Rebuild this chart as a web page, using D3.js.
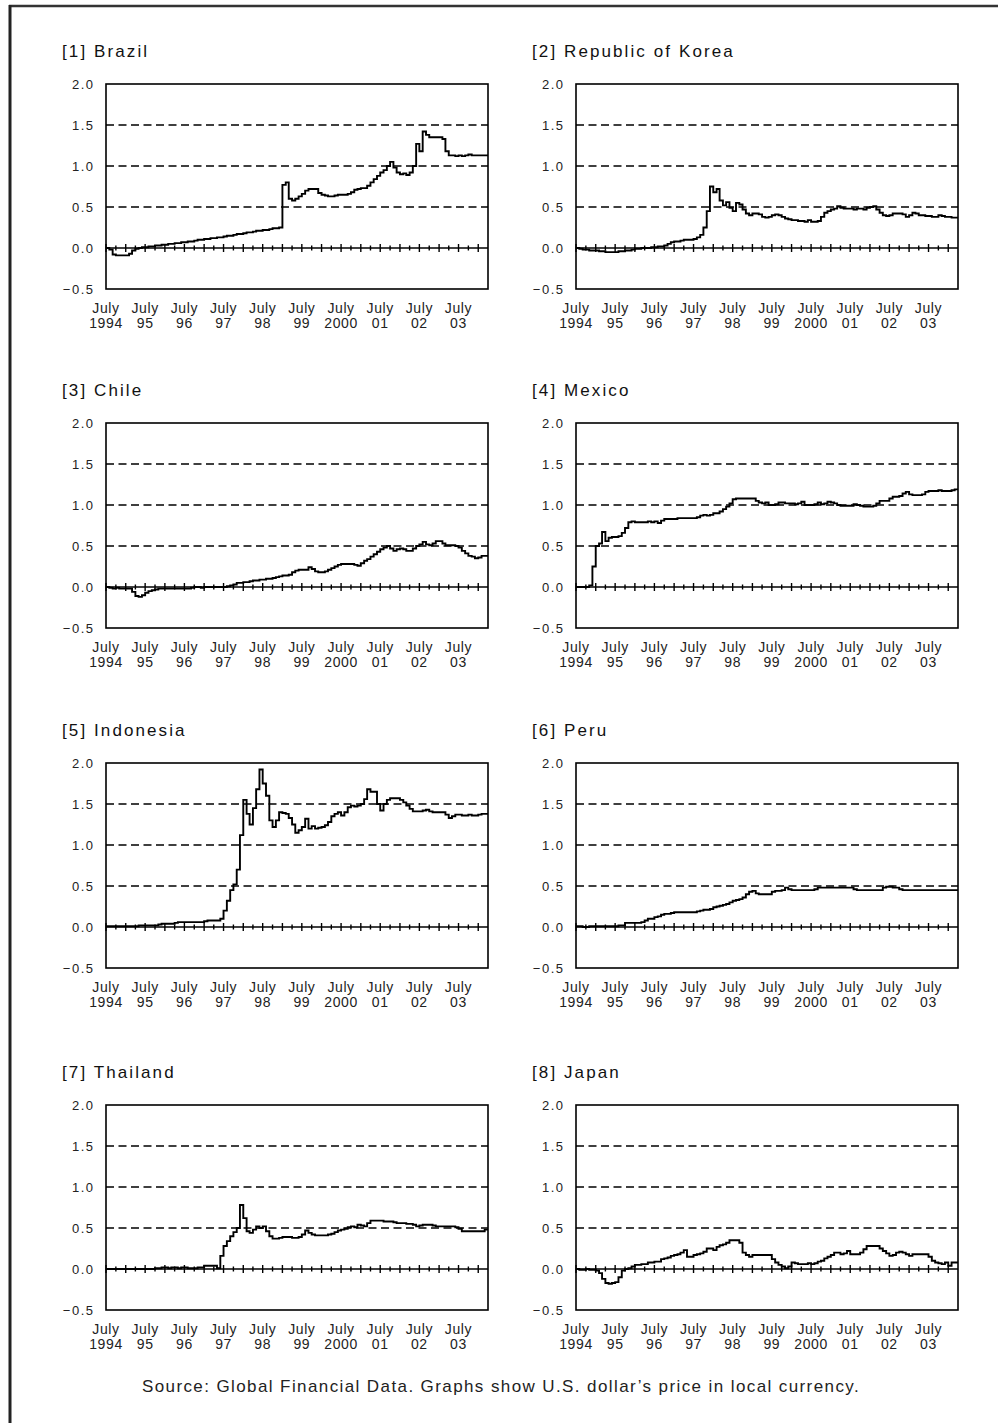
<!DOCTYPE html>
<html>
<head>
<meta charset="utf-8">
<script src="https://cdn.jsdelivr.net/npm/d3@7"></script>
<style>
  body { margin: 0; background: #fff; }
  svg { display: block; font-family: "Liberation Sans", Arial, Helvetica, sans-serif; }
</style>
</head>
<body>
<div id="chart"></div>
<script>
// monthly values, July 1994 .. March 2004 (U.S. dollar's price in local currency, log change)
var brazil = [0.0,-0.02,-0.08,-0.09,-0.09,-0.09,-0.09,-0.07,-0.03,-0.01,0.0,0.01,
  0.01,0.02,0.02,0.03,0.03,0.04,0.04,0.05,0.05,0.06,0.06,0.07,
  0.07,0.08,0.08,0.09,0.10,0.10,0.11,0.11,0.12,0.12,0.13,0.13,
  0.14,0.15,0.15,0.16,0.17,0.17,0.18,0.19,0.19,0.20,0.21,0.21,
  0.22,0.22,0.23,0.24,0.24,0.25,0.77,0.80,0.60,0.58,0.60,0.63,
  0.66,0.70,0.72,0.72,0.72,0.67,0.65,0.64,0.63,0.63,0.64,0.65,
  0.65,0.65,0.66,0.68,0.71,0.72,0.73,0.73,0.76,0.80,0.84,0.88,
  0.92,0.95,1.00,1.05,0.98,0.92,0.90,0.91,0.89,0.92,1.00,1.27,
  1.18,1.42,1.38,1.35,1.35,1.35,1.35,1.33,1.18,1.13,1.13,1.12,
  1.13,1.12,1.13,1.14,1.13,1.13,1.13,1.13,1.13];

var korea = [0.0,-0.01,-0.02,-0.02,-0.03,-0.03,-0.03,-0.04,-0.04,-0.05,-0.05,-0.05,
  -0.05,-0.04,-0.04,-0.03,-0.03,-0.02,-0.01,-0.01,0.0,0.0,0.0,0.01,
  0.01,0.02,0.02,0.03,0.05,0.07,0.08,0.08,0.09,0.10,0.10,0.10,
  0.11,0.13,0.16,0.25,0.45,0.75,0.68,0.72,0.58,0.52,0.56,0.49,
  0.45,0.55,0.53,0.47,0.42,0.40,0.42,0.42,0.41,0.38,0.37,0.38,
  0.40,0.41,0.40,0.38,0.36,0.35,0.34,0.34,0.33,0.33,0.32,0.34,
  0.32,0.32,0.33,0.38,0.43,0.45,0.47,0.48,0.51,0.49,0.48,0.48,
  0.48,0.47,0.48,0.48,0.47,0.49,0.50,0.51,0.47,0.43,0.40,0.39,
  0.40,0.42,0.42,0.42,0.41,0.38,0.40,0.43,0.42,0.40,0.40,0.39,
  0.39,0.38,0.38,0.40,0.39,0.38,0.38,0.37,0.37];

var chile = [0.0,-0.01,-0.02,-0.01,-0.02,-0.02,-0.02,-0.02,-0.06,-0.11,-0.12,-0.10,
  -0.07,-0.05,-0.04,-0.03,-0.02,-0.02,-0.02,-0.02,-0.02,-0.02,-0.02,-0.02,
  -0.02,-0.02,-0.01,0.0,0.0,-0.01,0.0,0.0,0.0,0.0,0.0,0.0,
  0.0,0.01,0.02,0.03,0.05,0.05,0.06,0.06,0.07,0.08,0.08,0.09,
  0.09,0.10,0.10,0.11,0.12,0.13,0.14,0.14,0.15,0.18,0.20,0.21,
  0.21,0.21,0.24,0.22,0.19,0.18,0.18,0.19,0.21,0.23,0.25,0.27,
  0.28,0.28,0.28,0.28,0.27,0.26,0.29,0.32,0.34,0.37,0.40,0.43,
  0.46,0.48,0.50,0.47,0.44,0.46,0.47,0.46,0.44,0.44,0.47,0.50,
  0.52,0.55,0.52,0.51,0.53,0.56,0.56,0.53,0.51,0.51,0.51,0.50,
  0.48,0.44,0.41,0.38,0.37,0.35,0.36,0.38,0.38];

var mexico = [0.0,0.0,0.0,0.0,0.02,0.25,0.50,0.53,0.67,0.56,0.60,0.61,
  0.61,0.62,0.66,0.72,0.79,0.80,0.79,0.79,0.79,0.79,0.80,0.79,
  0.80,0.78,0.81,0.83,0.83,0.83,0.83,0.84,0.84,0.84,0.84,0.84,
  0.84,0.85,0.87,0.88,0.87,0.88,0.90,0.90,0.92,0.95,0.98,1.02,
  1.07,1.08,1.08,1.08,1.08,1.08,1.08,1.05,1.03,1.02,1.03,1.00,
  1.00,1.01,1.03,1.03,1.02,1.02,1.02,1.01,1.02,1.04,1.00,1.00,
  1.00,1.01,1.03,1.01,1.02,1.04,1.03,1.02,1.00,0.99,0.99,0.99,
  0.99,1.01,1.00,0.99,0.98,0.98,0.98,0.99,1.02,1.05,1.05,1.05,
  1.08,1.10,1.10,1.11,1.14,1.16,1.13,1.12,1.12,1.12,1.13,1.16,
  1.17,1.17,1.17,1.18,1.17,1.17,1.17,1.18,1.19];

var indonesia = [0.01,0.01,0.01,0.01,0.01,0.01,0.01,0.01,0.01,0.01,0.02,0.02,
  0.02,0.02,0.02,0.02,0.03,0.04,0.04,0.04,0.04,0.05,0.06,0.06,
  0.06,0.06,0.06,0.06,0.06,0.06,0.07,0.08,0.08,0.08,0.08,0.10,
  0.20,0.32,0.45,0.52,0.70,1.12,1.55,1.38,1.25,1.45,1.68,1.92,
  1.75,1.60,1.30,1.22,1.30,1.40,1.39,1.38,1.33,1.25,1.15,1.18,
  1.22,1.32,1.20,1.23,1.20,1.21,1.22,1.24,1.28,1.35,1.38,1.40,
  1.36,1.40,1.46,1.48,1.47,1.48,1.50,1.56,1.68,1.65,1.65,1.50,
  1.42,1.50,1.55,1.57,1.57,1.57,1.55,1.52,1.48,1.44,1.41,1.41,
  1.41,1.42,1.43,1.41,1.40,1.40,1.40,1.40,1.37,1.33,1.35,1.37,
  1.37,1.36,1.36,1.37,1.36,1.36,1.37,1.38,1.38];

var peru = [0.01,0.01,0.0,0.0,0.01,0.01,0.01,0.01,0.01,0.01,0.01,0.01,
  0.01,0.02,0.02,0.05,0.05,0.05,0.05,0.05,0.06,0.08,0.10,0.10,
  0.12,0.13,0.15,0.16,0.16,0.17,0.18,0.18,0.18,0.18,0.18,0.18,
  0.18,0.19,0.20,0.21,0.21,0.22,0.24,0.25,0.26,0.27,0.28,0.30,
  0.32,0.33,0.34,0.36,0.40,0.43,0.44,0.41,0.40,0.40,0.40,0.40,
  0.43,0.44,0.44,0.45,0.48,0.46,0.45,0.45,0.45,0.45,0.45,0.45,
  0.45,0.46,0.48,0.48,0.48,0.48,0.48,0.48,0.48,0.48,0.48,0.48,
  0.48,0.46,0.45,0.45,0.45,0.45,0.45,0.45,0.45,0.45,0.48,0.49,
  0.49,0.48,0.48,0.46,0.45,0.45,0.45,0.45,0.45,0.45,0.45,0.45,
  0.45,0.45,0.45,0.45,0.45,0.45,0.45,0.45,0.45];

var thailand = [0.0,0.0,0.0,0.0,0.0,0.0,0.0,0.0,0.0,0.0,0.0,0.0,
  0.0,0.0,0.0,0.01,0.01,0.02,0.02,0.01,0.02,0.02,0.01,0.02,
  0.02,0.01,0.01,0.01,0.02,0.02,0.04,0.04,0.04,0.04,0.01,0.16,
  0.28,0.34,0.40,0.45,0.50,0.78,0.62,0.46,0.44,0.48,0.52,0.50,
  0.52,0.46,0.40,0.37,0.37,0.38,0.39,0.39,0.39,0.38,0.38,0.39,
  0.42,0.47,0.44,0.42,0.41,0.41,0.41,0.41,0.42,0.43,0.45,0.47,
  0.48,0.49,0.51,0.52,0.51,0.54,0.53,0.52,0.56,0.59,0.59,0.59,
  0.59,0.58,0.58,0.58,0.57,0.56,0.56,0.56,0.55,0.55,0.54,0.52,
  0.53,0.54,0.54,0.54,0.53,0.52,0.52,0.52,0.52,0.52,0.52,0.51,
  0.49,0.46,0.46,0.46,0.46,0.46,0.46,0.46,0.48];

var japan = [0.0,-0.01,-0.01,0.0,-0.01,-0.01,-0.02,-0.05,-0.12,-0.17,-0.18,-0.17,
  -0.16,-0.10,-0.02,0.0,0.01,0.03,0.05,0.05,0.06,0.06,0.08,0.08,
  0.09,0.09,0.12,0.13,0.14,0.16,0.17,0.18,0.20,0.23,0.15,0.15,
  0.17,0.18,0.19,0.21,0.25,0.25,0.23,0.27,0.29,0.30,0.32,0.35,
  0.35,0.35,0.32,0.20,0.17,0.15,0.17,0.17,0.17,0.17,0.17,0.17,
  0.12,0.08,0.05,0.03,0.01,0.03,0.08,0.07,0.06,0.06,0.06,0.07,
  0.06,0.07,0.09,0.10,0.13,0.15,0.17,0.20,0.20,0.18,0.19,0.22,
  0.18,0.18,0.18,0.20,0.24,0.28,0.28,0.28,0.28,0.25,0.22,0.19,
  0.16,0.17,0.20,0.21,0.20,0.18,0.16,0.18,0.18,0.18,0.18,0.18,
  0.15,0.10,0.08,0.07,0.06,0.08,0.04,0.08,0.08];

var titles = ["[1] Brazil", "[2] Republic of Korea", "[3] Chile", "[4] Mexico",
              "[5] Indonesia", "[6] Peru", "[7] Thailand", "[8] Japan"];
var series = [brazil, korea, chile, mexico, indonesia, peru, thailand, japan];

var yTicks = [-0.5, 0.0, 0.5, 1.0, 1.5, 2.0];
var yTickLabels = ["\u22120.5", "0.0", "0.5", "1.0", "1.5", "2.0"];
var gridValues = [0.5, 1.0, 1.5];
var xTickYears = [1994, 1995, 1996, 1997, 1998, 1999, 2000, 2001, 2002, 2003];
var xTickLabels = ["1994", "95", "96", "97", "98", "99", "2000", "01", "02", "03"];

var startDate = new Date(1994, 6, 1);
var endDate = new Date(2004, 3, 1);

// layout
var pw = 382, ph = 205;
var colX = [106, 576];
var rowY = [84, 423, 763, 1105];

var svg = d3.select('#chart')
    .append('svg')
    .attr('width', 998)
    .attr('height', 1423)
    ;

// outer frame (top and left edges visible)
svg.append('line')
    .attr('x1', 9).attr('y1', 6).attr('x2', 998).attr('y2', 6)
    .attr('stroke', '#333').attr('stroke-width', 2.5);
svg.append('line')
    .attr('x1', 10).attr('y1', 5).attr('x2', 10).attr('y2', 1423)
    .attr('stroke', '#222').attr('stroke-width', 3);

var xScale = d3.scaleTime()
    .domain([startDate, endDate])
    .range([0, pw])
    ;
var yScale = d3.scaleLinear()
    .domain([-0.5, 2.0])
    .range([ph, 0])
    ;

var line = d3.line()
    .x(function(d){ return xScale(d.date); })
    .y(function(d){ return yScale(d.value); })
    .curve(d3.curveStepAfter)
    ;

var quarters = d3.timeMonth.every(3).range(startDate, endDate);

series.forEach(function(values, i){
    var col = i % 2, row = Math.floor(i / 2);
    var g = svg.append('g')
        .attr('transform', 'translate(' + colX[col] + ',' + rowY[row] + ')');

    // title
    g.append('text')
        .attr('x', -44)
        .attr('y', -27)
        .attr('font-size', 17)
        .attr('letter-spacing', 2.1)
        .attr('fill', '#111')
        .text(titles[i]);

    // dashed grid lines
    g.selectAll('.grid').data(gridValues).enter()
        .append('line')
        .attr('class', 'grid')
        .attr('x1', 0).attr('x2', pw)
        .attr('y1', function(d){ return yScale(d); })
        .attr('y2', function(d){ return yScale(d); })
        .attr('stroke', '#000')
        .attr('stroke-width', 1.3)
        .attr('stroke-dasharray', '8,4.5');

    // zero line with quarterly ticks
    g.append('line')
        .attr('x1', 0).attr('x2', pw)
        .attr('y1', yScale(0)).attr('y2', yScale(0))
        .attr('stroke', '#000').attr('stroke-width', 1.6);
    g.selectAll('.qtick').data(quarters).enter()
        .append('line')
        .attr('class', 'qtick')
        .attr('x1', function(d){ return xScale(d); })
        .attr('x2', function(d){ return xScale(d); })
        .attr('y1', function(d){ return yScale(0) - (d.getMonth() % 6 === 0 ? 4 : 2.5); })
        .attr('y2', function(d){ return yScale(0) + (d.getMonth() % 6 === 0 ? 4 : 2.5); })
        .attr('stroke', '#000').attr('stroke-width', 1.4);

    // y labels
    g.selectAll('.ylab').data(yTicks).enter()
        .append('text')
        .attr('class', 'ylab')
        .attr('x', -13 + 1.5)
        .attr('y', function(d){ return yScale(d); })
        .attr('dy', '0.36em')
        .attr('text-anchor', 'end')
        .attr('font-size', 13)
        .attr('letter-spacing', 1.5)
        .attr('fill', '#222')
        .text(function(d, k){ return yTickLabels[k]; });

    // x labels
    var xl = g.selectAll('.xlab').data(xTickYears).enter()
        .append('text')
        .attr('class', 'xlab')
        .attr('text-anchor', 'middle')
        .attr('font-size', 14)
        .attr('letter-spacing', 0.6)
        .attr('fill', '#222');
    xl.append('tspan')
        .attr('x', function(d){ return xScale(new Date(d, 6, 1)); })
        .attr('y', ph + 24)
        .text('July');
    xl.append('tspan')
        .attr('x', function(d){ return xScale(new Date(d, 6, 1)); })
        .attr('y', ph + 39)
        .text(function(d, k){ return xTickLabels[k]; });

    // data line (last step carried to the right edge)
    var pts = values.map(function(v, k){ return {date: new Date(1994, 6 + k, 1), value: v}; });
    pts.push({date: endDate, value: values[values.length - 1]});
    g.append('path')
        .datum(pts)
        .attr('fill', 'none')
        .attr('stroke', '#000')
        .attr('stroke-width', 1.9)
        .attr('stroke-linejoin', 'miter')
        .attr('d', line);

    // plot frame
    g.append('rect')
        .attr('x', 0).attr('y', 0)
        .attr('width', pw).attr('height', ph)
        .attr('fill', 'none')
        .attr('stroke', '#000')
        .attr('stroke-width', 1.6);
});

svg.append('text')
    .attr('x', 501)
    .attr('y', 1392)
    .attr('text-anchor', 'middle')
    .attr('font-size', 17)
    .attr('letter-spacing', 1.4)
    .attr('fill', '#222')
    .text("Source: Global Financial Data. Graphs show U.S. dollar\u2019s price in local currency.");
</script>
</body>
</html>
